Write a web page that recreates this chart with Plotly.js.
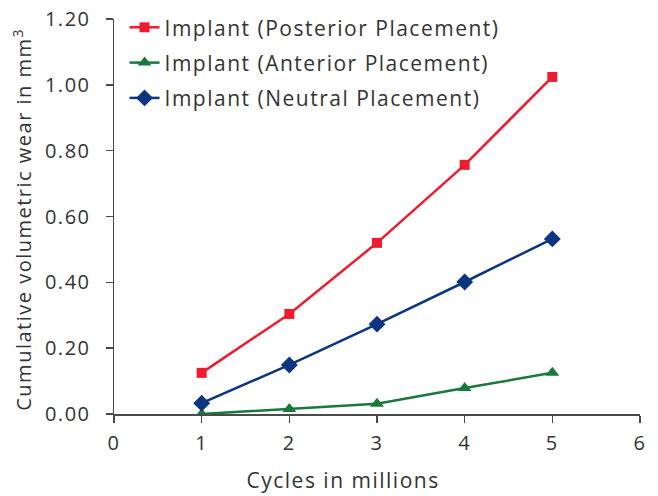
<!DOCTYPE html>
<html><head><meta charset="utf-8">
<script src="https://cdn.plot.ly/plotly-3.0.1.min.js"></script>
<style>html,body{margin:0;padding:0;background:#fff}#chart{width:658px;height:496px}#chart text{letter-spacing:1.5px}</style>
</head><body><div id="chart"></div>
<script>
const cycles = [1, 2, 3, 4, 5];
const posterior = [0.125, 0.304, 0.520, 0.757, 1.024];
const anterior = [0.000, 0.015, 0.031, 0.079, 0.125];
const neutral = [0.033, 0.149, 0.273, 0.401, 0.532];
const seriesNames = ["Implant (Posterior Placement)", "Implant (Anterior Placement)", "Implant (Neutral Placement)"];
const yTicks = [0, 0.2, 0.4, 0.6, 0.8, 1.0, 1.2];
const xTicks = [0, 1, 2, 3, 4, 5, 6];
const xTitle = "Cycles in millions";
const yTitle = "Cumulative volumetric wear in mm<sup>3</sup>";

const FONT = "'Open Sans', Lato, sans-serif";
const txt = "#333333";
const traces = [
  {x: cycles, y: posterior, name: seriesNames[0], legendgroup: "a", mode: "lines+markers",
   line: {color: "#ED1C2E", width: 2.5}, marker: {symbol: "square", size: 10, color: "#ED1C2E"}},
  {x: cycles, y: anterior, name: seriesNames[1], legendgroup: "b", mode: "lines+markers",
   line: {color: "#17793A", width: 2.5}, marker: {symbol: "triangle-up", size: 12, color: "#17793A"}},
  {x: cycles, y: neutral, name: seriesNames[2], legendgroup: "c", mode: "lines+markers",
   line: {color: "#0B3580", width: 2.5}, marker: {symbol: "diamond", size: 13, color: "#0B3580"}}
];
const layout = {
  width: 658, height: 496,
  margin: {l: 114, r: 18, t: 19, b: 82, autoexpand: false},
  paper_bgcolor: "#fff", plot_bgcolor: "#fff",
  font: {family: FONT, size: 20, color: txt},
  showlegend: true,
  legend: {x: 0.02, y: 1.03, xanchor: "left", yanchor: "top", bgcolor: "rgba(0,0,0,0)",
           font: {family: FONT, size: 21, color: txt}, tracegroupgap: 5, itemwidth: 30},
  xaxis: {range: [0, 6], tickvals: xTicks, ticktext: xTicks.map(String), showgrid: false, zeroline: false,
          showline: true, linecolor: "#4a4a4a", linewidth: 1.5, ticks: "outside", ticklen: 7, tickcolor: "#4a4a4a", tickwidth: 1.5,
          tickfont: {family: FONT, size: 20, color: txt}, automargin: false, ticklabelstandoff: 3},
  yaxis: {range: [0, 1.2], tickvals: yTicks, ticktext: yTicks.map(v => v.toFixed(2)), showgrid: false, zeroline: false,
          showline: true, linecolor: "#4a4a4a", linewidth: 1.5, ticks: "outside", ticklen: 7, tickcolor: "#4a4a4a", tickwidth: 1.5,
          tickfont: {family: FONT, size: 20, color: txt}, automargin: false, ticklabelstandoff: 11},
  annotations: [
    {text: xTitle, xref: "paper", yref: "paper", x: (343 - 114) / 526, y: (414 - 480) / 395,
     xanchor: "center", yanchor: "middle", showarrow: false, font: {family: FONT, size: 21, color: txt}},
    {text: yTitle, xref: "paper", yref: "paper", x: (22 - 114) / 526, y: (414 - 220) / 395, textangle: -90,
     xanchor: "center", yanchor: "middle", showarrow: false, font: {family: FONT, size: 20, color: txt}}
  ]
};
Plotly.newPlot("chart", traces, layout, {displayModeBar: false, staticPlot: true}).then(function (gd) {
  gd.querySelectorAll('.legend [clip-path]').forEach(function (el) { el.removeAttribute('clip-path'); });
});
</script></body></html>
